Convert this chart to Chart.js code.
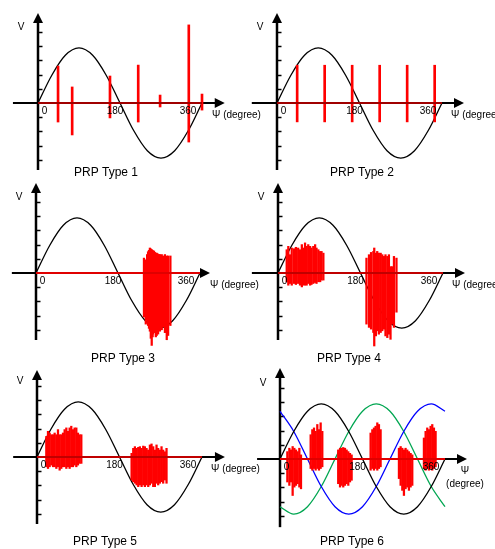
<!DOCTYPE html>
<html>
<head>
<meta charset="utf-8">
<title>PRP types</title>
<script src="https://cdn.jsdelivr.net/npm/chart.js@4.4.1/dist/chart.umd.min.js"></script>
<style>
    html, body { margin: 0; padding: 0; background: #fff; }
    #wrap { position: relative; width: 495px; height: 549px; overflow: hidden; }
    #wrap canvas { position: absolute; }
</style>
</head>
<body>
<div id="wrap">
    <canvas id="prp1"></canvas>
    <canvas id="prp2"></canvas>
    <canvas id="prp3"></canvas>
    <canvas id="prp4"></canvas>
    <canvas id="prp5"></canvas>
    <canvas id="prp6"></canvas>
</div>
<script>
// --- DATA ---
// phase angle (degree) of the supply voltage curves
const phaseDeg = [0, 30, 60, 90, 120, 150, 180, 210, 240, 270, 300, 330, 360];
// voltage in tick units (one tick on the V axis = 1)
const sineA = [0, 1.94, 3.36, 3.88, 3.36, 1.94, 0, -1.94, -3.36, -3.88, -3.36, -1.94, 0];
const sineB = [3.36, 1.94, 0, -1.94, -3.36, -3.88, -3.36, -1.94, 0, 1.94, 3.36, 3.88, 3.36];
const sineC = [-3.36, -3.88, -3.36, -1.94, 0, 1.94, 3.36, 3.88, 3.36, 1.94, 0, -1.94, -3.36];

const xTickValues = [0, 180, 360];
const xTickLabels = ['0', '180', '360'];
const yTickValues = [-4, -3, -2, -1, 1, 2, 3, 4, 5];
const panelTitles = ['PRP Type 1', 'PRP Type 2', 'PRP Type 3', 'PRP Type 4', 'PRP Type 5', 'PRP Type 6'];

// discharge pulses: [phase deg, low, high]
const pulsesType1 = [[44, -1.34, 2.6], [75, -2.25, 1.13], [158, -1.05, 1.9], [220, -1.34, 2.67],
    [268, -0.28, 0.56], [331, -2.75, 5.5], [360, -0.5, 0.63]];

const pulsesType2 = [[44, -1.33, 2.66], [104, -1.33, 2.66], [164, -1.33, 2.66], [224, -1.33, 2.66],
    [284, -1.33, 2.66], [344, -1.33, 2.66]];

const pulsesType3 = [[237, -3.1, 1.05], [239, -2.9, 0.8], [241, -3.6, 0.93], [244, -3.3, 1.3],
    [246, -3.7, 1.5], [248, -3.9, 1.6], [250, -4.1, 1.76], [252, -4.6, 1.7], [254, -5.1, 1.65],
    [256, -4.5, 1.6], [257, -4.3, 1.5], [259, -4.0, 1.55], [261, -4.2, 1.45], [263, -4.5, 1.4],
    [265, -4.4, 1.4], [267, -4.0, 1.35], [268, -4.3, 1.3], [270, -3.9, 1.3], [272, -4.1, 1.3],
    [276, -4.0, 1.3], [279, -3.8, 1.2], [283, -4.2, 1.3], [287, -4.7, 1.2], [290, -4.4, 1.2],
    [295, -3.7, 1.2]];

const pulsesType4 = [[19, -0.62, 1.64], [22.5, -0.86, 1.88], [26, -0.74, 1.29], [30, -0.86, 1.76],
    [35, -0.74, 1.71], [39, -0.81, 1.81], [44, -0.74, 1.76], [48, -0.86, 1.64], [52, -0.98, 2.0],
    [55, -0.86, 1.76], [59, -0.86, 2.12], [62.5, -0.86, 1.88], [66, -0.74, 2.0], [70, -0.86, 1.88],
    [73, -0.81, 1.76], [77, -0.74, 1.88], [81, -0.67, 2.0], [84, -0.74, 1.76], [88, -0.62, 1.64],
    [92, -0.62, 1.52], [95, -0.5, 1.52], [99, -0.5, 1.4],
    [193, -3.6, 1.05], [198.5, -3.83, 1.29], [203, -3.95, 1.45], [208, -4.19, 1.52], [210, -5.14, 1.76],
    [213.5, -4.43, 1.4], [216.5, -4.07, 1.52], [220, -4.31, 1.4], [224, -4.19, 1.4], [227.5, -4.07, 1.29],
    [231, -3.95, 1.17], [234.5, -4.43, 1.29], [238.5, -4.55, 1.17], [242, -4.31, 1.29],
    [245.5, -4.67, 0.45], [249, -3.6, 0.45], [253, -3.83, 1.17], [258.5, -2.76, 1.05]];

const pulsesType5 = [[20.3, -0.69, 1.45], [24, -0.81, 1.81], [27.6, -0.69, 1.69], [31.3, -0.57, 1.57],
    [35, -0.69, 1.57], [38.5, -0.69, 1.69], [42.2, -0.81, 1.57], [45.8, -0.69, 1.93], [49.4, -0.93, 1.57],
    [53, -0.81, 1.57], [56.7, -0.69, 1.69], [60.3, -0.69, 1.93], [64, -0.81, 2.05], [67.6, -0.69, 1.81],
    [71.2, -0.81, 2.05], [74.8, -0.69, 2.17], [78.5, -0.69, 1.93], [82.1, -0.57, 2.05], [85.8, -0.69, 2.05],
    [89.4, -0.57, 1.69], [93, -0.45, 1.57], [96.7, -0.45, 1.57],
    [206.4, -1.62, 0.26], [210, -1.74, 0.61], [213.6, -1.85, 0.73], [217.3, -1.97, 0.61], [220.9, -2.09, 0.68],
    [224.5, -1.97, 0.73], [228.2, -2.09, 0.61], [231.8, -1.97, 0.77], [235.4, -2.09, 0.73], [239, -1.97, 0.61],
    [242.7, -2.09, 0.49], [246.3, -1.97, 0.85], [249.9, -1.85, 0.92], [253.6, -2.09, 0.73], [257.2, -2.09, 0.49],
    [260.8, -1.85, 0.85], [264.4, -1.97, 0.61], [268, -1.85, 0.49], [271.7, -1.74, 0.73], [275.3, -1.85, 0.49],
    [278.9, -1.62, 0.37], [282.6, -1.85, 0.61]];

const pulsesType6 = [[16, -1.62, 0.52], [20.4, -1.86, 0.76], [24, -1.62, 0.64], [27.6, -2.57, 0.88],
    [31.3, -1.98, 0.76], [34.9, -1.86, 0.64], [38.5, -1.74, 0.52], [42.2, -1.98, 0.76], [45.8, -2.1, 0.29],
    [66.9, -0.67, 1.71], [70.5, -0.79, 2.07], [74.2, -0.67, 2.19], [77.8, -0.79, 1.95], [81.4, -0.67, 2.43],
    [85, -0.79, 2.07], [88.7, -0.67, 2.55], [92.3, -0.55, 1.95],
    [127, -1.74, 0.64], [131, -1.98, 0.76], [134.5, -1.86, 0.76], [138, -1.98, 0.81], [141.8, -1.86, 0.76],
    [145.4, -1.74, 0.64], [149, -1.86, 0.52], [152.7, -1.62, 0.4], [156.3, -1.5, 0.29],
    [197.7, -0.79, 1.83], [201.4, -0.67, 2.07], [205, -0.79, 2.19], [208.6, -0.67, 2.31], [212.3, -0.79, 2.55],
    [215.9, -0.67, 2.43], [219.5, -0.55, 2.07],
    [259.5, -1.38, 0.76], [263.2, -1.86, 0.88], [266.8, -2.21, 0.76], [270.4, -2.57, 0.64], [274, -2.1, 0.76],
    [277.7, -1.98, 0.64], [281.3, -2.21, 0.52], [285, -1.98, 0.4], [288.6, -1.86, 0.29],
    [314, -0.67, 1.48], [317.7, -0.79, 1.95], [321.3, -0.67, 2.19], [325, -0.79, 2.07], [328.6, -0.67, 2.31],
    [332.2, -0.79, 2.43], [335.9, -0.67, 2.19], [339.5, -0.55, 1.95]];

// --- LAYOUT (page pixels) ---
const UNIT_PX = 14.2;   // one V tick
const FONT = '"Liberation Sans", Arial, sans-serif';

const panels = [
    { id: 'prp1', title: panelTitles[0], pulses: pulsesType1, curves: [[sineA, '#000']], base: '#a00000',
      cell: [0, 0, 262, 184], origin: [38, 103], span: 164, axisX: [-55, 410], axisY: [-4.72, 6.34],
      titleAt: [68, 70], pulseW: 2 },
    { id: 'prp2', title: panelTitles[1], pulses: pulsesType2, curves: [[sineA, '#000']], base: '#a00000',
      cell: [245, 0, 250, 184], origin: [277, 103], span: 165, axisX: [-55, 408], axisY: [-4.72, 6.34],
      titleAt: [85, 70], pulseW: 2 },
    { id: 'prp3', title: panelTitles[2], pulses: pulsesType3, curves: [[sineA, '#000']], base: '#e00000',
      cell: [0, 180, 262, 190], origin: [36, 273], span: 164, axisX: [-53, 382], axisY: [-4.72, 6.34],
      titleAt: [87, 86], pulseW: 1.6 },
    { id: 'prp4', title: panelTitles[3], pulses: pulsesType4, curves: [[sineA, '#000']], base: '#c00000',
      cell: [245, 180, 250, 190], origin: [278, 273], span: 165, axisX: [-57, 408], axisY: [-4.72, 6.34],
      titleAt: [71, 86], pulseW: 1.6 },
    { id: 'prp5', title: panelTitles[4], pulses: pulsesType5, curves: [[sineA, '#000']], base: '#c00000',
      cell: [0, 364, 262, 185], origin: [37, 457], span: 165, axisX: [-52, 410], axisY: [-4.72, 6.13],
      titleAt: [68, 85], pulseW: 1.6 },
    { id: 'prp6', title: panelTitles[5], pulses: pulsesType6,
      curves: [[sineA, '#000'], [sineB, '#0000ff'], [sineC, '#00a651']], base: '#e00000',
      cell: [245, 364, 250, 185], origin: [280, 459], span: 165, axisX: [-50, 408], axisY: [-4.8, 6.4],
      titleAt: [72, 83], pulseW: 1.6, psiTwoLines: true }
];

// axes with arrows, V ticks and all the texts
const prpAxes = {
    id: 'prpAxes',
    beforeDatasetsDraw(chart, args, opts) {
        const { ctx, scales: { x, y } } = chart;
        const x0 = x.getPixelForValue(0);
        const y0 = y.getPixelForValue(0);
        const xa = x.getPixelForValue(opts.axisX[0]);
        const xb = x.getPixelForValue(opts.axisX[1]);
        const yb = y.getPixelForValue(opts.axisY[0]);
        const yt = y.getPixelForValue(opts.axisY[1]);
        ctx.save();
        ctx.strokeStyle = '#000';
        ctx.fillStyle = '#000';

        // vertical axis + arrow
        ctx.lineWidth = 2.5;
        ctx.beginPath();
        ctx.moveTo(x0, yb);
        ctx.lineTo(x0, yt + 6);
        ctx.stroke();
        ctx.beginPath();
        ctx.moveTo(x0, yt);
        ctx.lineTo(x0 - 5, yt + 10);
        ctx.lineTo(x0 + 5, yt + 10);
        ctx.closePath();
        ctx.fill();

        // horizontal axis + arrow
        ctx.lineWidth = 2;
        ctx.beginPath();
        ctx.moveTo(xa, y0);
        ctx.lineTo(xb - 6, y0);
        ctx.stroke();
        ctx.beginPath();
        ctx.moveTo(xb, y0);
        ctx.lineTo(xb - 10, y0 - 5);
        ctx.lineTo(xb - 10, y0 + 5);
        ctx.closePath();
        ctx.fill();

        // V ticks
        ctx.lineWidth = 1.5;
        yTickValues.forEach(v => {
            const py = Math.round(y.getPixelForValue(v)) + 0.5;
            ctx.beginPath();
            ctx.moveTo(x0, py);
            ctx.lineTo(x0 + 4.5, py);
            ctx.stroke();
        });
        ctx.restore();
    },
    afterDatasetsDraw(chart, args, opts) {
        const { ctx, scales: { x, y } } = chart;
        const x0 = x.getPixelForValue(0);
        const y0 = y.getPixelForValue(0);
        const shift = [6.5, -5, -14];
        ctx.save();
        ctx.fillStyle = '#000';
        ctx.font = '10px ' + FONT;
        ctx.textAlign = 'center';
        ctx.textBaseline = 'middle';
        xTickValues.forEach((v, i) => {
            ctx.fillText(xTickLabels[i], x.getPixelForValue(v) + shift[i], y0 + 8);
        });
        ctx.fillText('V', x0 - 17, y0 - 76);

        if (opts.psiTwoLines) {
            ctx.fillText('Ψ', x0 + 185, y0 + 12);
            ctx.fillText('(degree)', x0 + 185, y0 + 25);
        } else {
            ctx.textAlign = 'left';
            ctx.fillText('Ψ (degree)', x0 + 174, y0 + 12);
        }

        ctx.textAlign = 'center';
        ctx.font = '12px ' + FONT;
        ctx.fillText(opts.title, x0 + opts.titleAt[0], y0 + opts.titleAt[1]);
        ctx.restore();
    }
};

document.addEventListener('DOMContentLoaded', () => {
    panels.forEach(p => {
        const canvas = document.getElementById(p.id);
        const [cl, ct, cw, ch] = p.cell;
        canvas.width = cw;
        canvas.height = ch;
        canvas.style.left = cl + 'px';
        canvas.style.top = ct + 'px';

        const ox = p.origin[0] - cl;
        const oy = p.origin[1] - ct;

        const datasets = [
            {
                type: 'line',
                data: [{ x: 0, y: 0 }, { x: 360, y: 0 }],
                borderColor: p.base,
                borderWidth: 2,
                pointRadius: 0,
                clip: false
            },
            {
                type: 'bar',
                data: p.pulses.map(d => ({ x: d[0], y: [d[1], d[2]] })),
                backgroundColor: '#ff0000',
                borderWidth: 0,
                barThickness: p.pulseW,
                clip: false
            }
        ];
        p.curves.forEach(([vals, color]) => {
            datasets.push({
                type: 'line',
                data: phaseDeg.map((deg, i) => ({ x: deg, y: vals[i] })),
                borderColor: color,
                borderWidth: 1.3,
                pointRadius: 0,
                cubicInterpolationMode: 'monotone',
                clip: false
            });
        });

        new Chart(canvas, {
            type: 'line',
            data: { datasets },
            options: {
                responsive: false,
                animation: false,
                events: [],
                layout: {
                    padding: {
                        left: ox,
                        right: cw - ox - p.span,
                        top: oy - 6 * UNIT_PX,
                        bottom: ch - oy - 5 * UNIT_PX
                    }
                },
                scales: {
                    x: { type: 'linear', min: 0, max: 360, display: false, offset: false },
                    y: { type: 'linear', min: -5, max: 6, display: false }
                },
                plugins: {
                    legend: { display: false },
                    tooltip: { enabled: false },
                    prpAxes: {
                        axisX: p.axisX,
                        axisY: p.axisY,
                        title: p.title,
                        titleAt: p.titleAt,
                        psiTwoLines: !!p.psiTwoLines
                    }
                }
            },
            plugins: [prpAxes]
        });
    });
});
</script>
</body>
</html>
